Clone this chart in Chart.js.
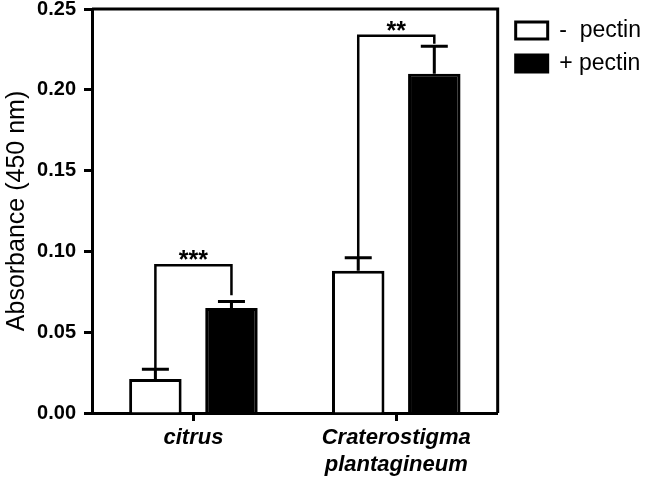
<!DOCTYPE html>
<html>
<head>
<meta charset="utf-8">
<script src="https://cdn.jsdelivr.net/npm/chart.js@4/dist/chart.umd.min.js"></script>
<style>
  html, body { margin: 0; padding: 0; background: #fff; }
  #wrap { width: 645px; height: 478px; position: relative; }
</style>
</head>
<body>
<div id="wrap"><canvas id="chart"></canvas></div>
<script>
const categories   = ["citrus", ["Craterostigma", "plantagineum"]];
const minusPectin  = [0.021, 0.088];
const plusPectin   = [0.065, 0.210];
const minusErr     = [0.006, 0.008];
const plusErr      = [0.004, 0.017];
const bracketTop   = [0.0915, 0.2335];
const bracketEnd   = [0.0728, 0.2285];
const stars        = ["***", "**"];
const yTicks       = [0, 0.05, 0.10, 0.15, 0.20, 0.25];

// error bars, significance brackets and the closed box
const extras = {
  id: "extras",
  afterDatasetsDraw(chart) {
    const ctx = chart.ctx, y = chart.scales.y, area = chart.chartArea;
    const m0 = chart.getDatasetMeta(0).data, m1 = chart.getDatasetMeta(1).data;
    const errs = [minusErr, plusErr], vals = [minusPectin, plusPectin];
    ctx.save();
    ctx.strokeStyle = "#000";
    ctx.lineWidth = 3;
    ctx.lineCap = "butt";
    [m0, m1].forEach((bars, d) => {
      bars.forEach((bar, i) => {
        const top = y.getPixelForValue(vals[d][i] + errs[d][i]);
        ctx.beginPath();
        ctx.moveTo(bar.x, bar.y);
        ctx.lineTo(bar.x, top);
        ctx.moveTo(bar.x - 13.5, top);
        ctx.lineTo(bar.x + 13.5, top);
        ctx.stroke();
      });
    });
    ctx.lineWidth = 2.5;
    ctx.lineJoin = "miter";
    m0.forEach((bar, i) => {
      const x1 = bar.x, x2 = m1[i].x;
      const yStart = y.getPixelForValue(minusPectin[i] + minusErr[i]);
      const yTop = y.getPixelForValue(bracketTop[i]);
      const yEnd = y.getPixelForValue(bracketEnd[i]);
      ctx.beginPath();
      ctx.moveTo(x1, yStart);
      ctx.lineTo(x1, yTop);
      ctx.lineTo(x2, yTop);
      ctx.lineTo(x2, yEnd);
      ctx.stroke();
      ctx.fillStyle = "#000";
      ctx.font = "bold 25px Arial, 'Liberation Sans', sans-serif";
      ctx.textAlign = "center";
      ctx.textBaseline = "alphabetic";
      ctx.fillText(stars[i], (x1 + x2) / 2, yTop + 3);
    });
    ctx.lineWidth = 3;
    ctx.beginPath();
    ctx.moveTo(area.left, area.top);
    ctx.lineTo(area.right, area.top);
    ctx.lineTo(area.right, area.bottom);
    ctx.stroke();
    ctx.restore();
  }
};

new Chart(document.getElementById("chart"), {
  type: "bar",
  data: {
    labels: categories,
    datasets: [
      { label: "-  pectin", data: minusPectin, backgroundColor: "#fff", borderColor: "#000", borderWidth: 3,
        categoryPercentage: 0.75, barPercentage: 0.69 },
      { label: "+ pectin",  data: plusPectin,  backgroundColor: "#000", borderColor: "#000", borderWidth: 3,
        categoryPercentage: 0.75, barPercentage: 0.69 },
    ]
  },
  options: {
    responsive: true,
    maintainAspectRatio: false,
    animation: false,
    layout: { padding: { left: 0, top: 0, right: -6, bottom: 0 } },
    plugins: {
      tooltip: { enabled: false },
      legend: {
        position: "right",
        align: "start",
        fullSize: false,
        labels: {
          color: "#000",
          boxWidth: 32,
          boxHeight: 17,
          padding: 10,
          font: { family: "Arial, 'Liberation Sans', sans-serif", size: 23 }
        }
      }
    },
    scales: {
      x: {
        grid: { display: true, drawOnChartArea: false, offset: false, tickLength: 8, tickColor: "#000", tickWidth: 3 },
        border: { display: true, color: "#000", width: 3 },
        ticks: {
          color: "#000", padding: 4, maxRotation: 0,
          font: { family: "Arial, 'Liberation Sans', sans-serif", size: 22, weight: "bold", style: "italic", lineHeight: 1.22 }
        },
        afterFit(s) { s.height = 65; }
      },
      y: {
        min: 0, max: 0.25,
        afterBuildTicks(s) { s.ticks = yTicks.map(v => ({ value: v })); },
        grid: { drawOnChartArea: false, tickLength: 8, tickColor: "#000", tickWidth: 3 },
        border: { display: true, color: "#000", width: 3 },
        ticks: {
          color: "#000", padding: 8,
          callback: v => v.toFixed(2),
          font: { family: "Arial, 'Liberation Sans', sans-serif", size: 20, weight: "bold" }
        },
        title: {
          display: true, text: "Absorbance (450 nm)", color: "#000", padding: { top: 3, bottom: 0 },
          font: { family: "Arial, 'Liberation Sans', sans-serif", size: 25, lineHeight: 1.1 }
        },
        afterFit(s) { s.width = 92; s.paddingTop = 9; s.paddingBottom = 0; }
      },
      y2: {
        position: "right", display: false,
        afterFit(s) { s.width = 8; s.paddingTop = 0; s.paddingBottom = 0; }
      }
    }
  },
  plugins: [extras]
});
</script>
</body>
</html>
